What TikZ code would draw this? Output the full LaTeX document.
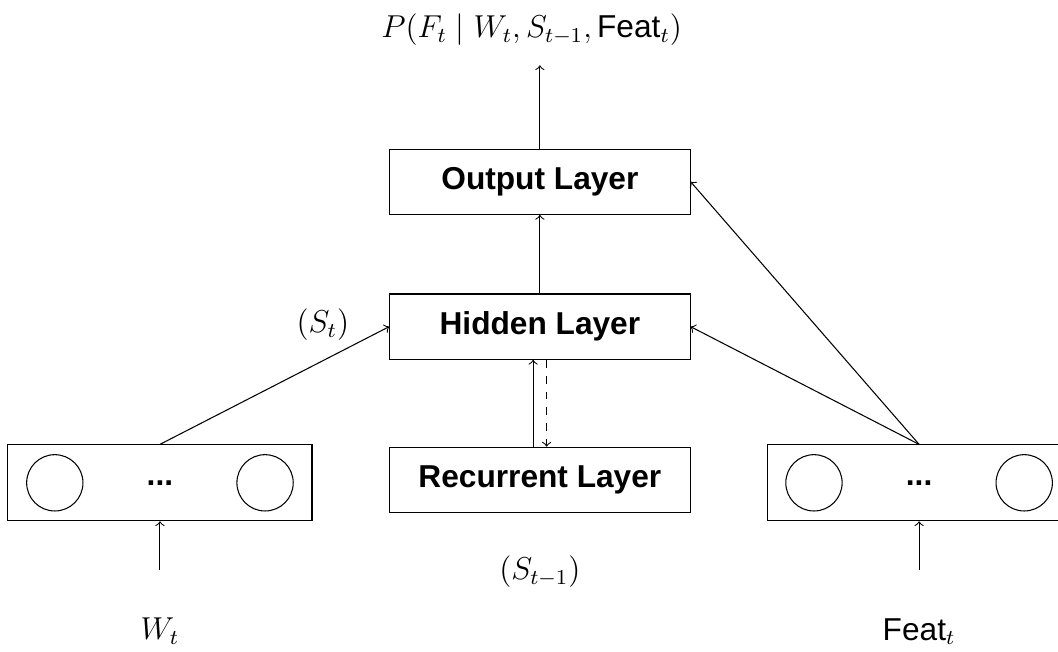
\documentclass[12pt,tikz,border=0pt]{standalone}
\usepackage{fontspec}
\setsansfont{Liberation Sans}
\usepackage{amsmath}
\usetikzlibrary{positioning}

\begin{document}
\begin{tikzpicture}[
    layer/.style={draw, minimum width=4cm, minimum height=0.87cm, font=\sffamily\bfseries},
    inputbox/.style={draw, minimum width=4.05cm, minimum height=1.01cm},
    unit/.style={draw, circle, minimum size=0.75cm, inner sep=0pt},
    dotsmark/.style={font=\sffamily\bfseries, inner sep=0pt}]
  \useasboundingbox (0,0) rectangle (14.09,8.68);
  % layers in the middle
  \node[layer] (output) at (7.19,6.26) {Output Layer};
  \node[layer] (hidden) at (7.19,4.33) {Hidden Layer};
  \node[layer] (recurrent) at (7.19,2.29) {Recurrent Layer};
  % input vectors
  \node[inputbox] (wbox) at (2.13,2.25) {};
  \node[unit, right=0.25cm of wbox.west] (wfirst) {};
  \node[unit, left=0.25cm of wbox.east] (wlast) {};
  \node[dotsmark] (wdots) at (wbox.center) {...};
  \node[inputbox] (fbox) at (12.24,2.25) {};
  \node[unit, right=0.25cm of fbox.west] (ffirst) {};
  \node[unit, left=0.25cm of fbox.east] (flast) {};
  \node[dotsmark] (fdots) at (fbox.center) {...};
  % labels
  \node (prob) at (7.08,8.28) {$P(F_t \mid W_t, S_{t-1}, \textsf{Feat}_t)$};
  \node (wlabel) at (2.13,0.27) {$W_t$};
  \node (flabel) at (12.24,0.27) {$\textsf{Feat}_t$};
  \node (stlabel) at (4.3,4.36) {$(S_t)$};
  \node (sprevlabel) at (7.19,1.07) {$(S_{t-1})$};
  \coordinate (pout) at (7.19,7.81);
  \coordinate (win) at (2.13,1.09);
  \coordinate (fin) at (12.24,1.09);
  % connections
  \draw[->] (output) -- (pout);
  \draw[->] (hidden) -- (output);
  \draw[->] (win) -- (wbox);
  \draw[->] (fin) -- (fbox);
  \draw[->] (wbox.north) -- (hidden.west);
  \draw[->] (fbox.north) -- (hidden.east);
  \draw[->] (fbox.north) -- (output.east);
  \draw[->] ([xshift=-0.09cm]recurrent.north) -- ([xshift=-0.09cm]hidden.south);
  \draw[->, dashed] ([xshift=0.09cm]hidden.south) -- ([xshift=0.09cm]recurrent.north);
\end{tikzpicture}
\end{document}
